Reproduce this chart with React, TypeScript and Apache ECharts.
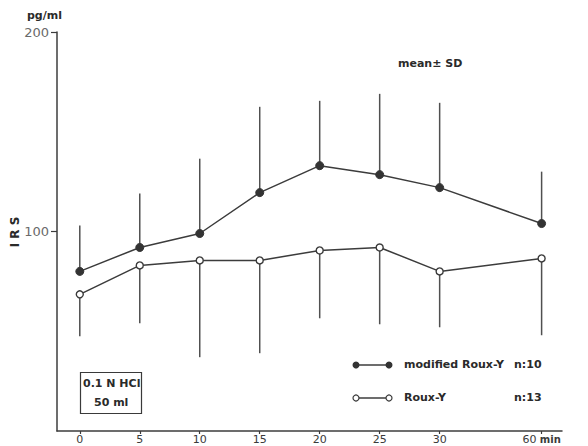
import React, { useEffect, useRef } from "react";
import * as echarts from "echarts";

// time points (min)
const times = [0, 5, 10, 15, 20, 25, 30, 60];
// modified Roux-Y (n:10) mean and SD (upper bar)
const modMean = [80, 92, 99, 119.5, 133, 128.5, 122, 104];
const modSD = [23, 27, 37.5, 43, 32.5, 40.5, 42.5, 26];
// Roux-Y (n:13) mean and SD (lower bar)
const rouxMean = [68.5, 83, 85.5, 85.5, 90.5, 92, 80, 86.5];
const rouxSD = [21, 29, 48.5, 46.5, 34, 38.5, 28, 38.5];
// axis ticks
const yTicks = [100, 200];
const xTickTimes = [0, 5, 10, 15, 20, 25, 30, 60];

// the time axis is compressed after 30 min (60 min is drawn at 38.5)
const pos = (t: number) => (t <= 30 ? t : 38.5);

const INK = "#3c3c3c";

export default function App() {
  const ref = useRef<HTMLDivElement>(null);
  useEffect(() => {
    if (!ref.current) return;
    const chart = echarts.init(ref.current, null, { renderer: "svg" });
    const modLine = times.map((t, i) => [pos(t), modMean[i]]);
    const rouxLine = times.map((t, i) => [pos(t), rouxMean[i]]);
    const modErr = times.map((t, i) => [pos(t), modMean[i], modMean[i] + modSD[i]]);
    const rouxErr = times.map((t, i) => [pos(t), rouxMean[i], rouxMean[i] - rouxSD[i]]);
    const labelOf: Record<string, string> = {};
    xTickTimes.forEach((t) => (labelOf[String(pos(t))] = t === 60 ? "{a|60} {b|min}" : String(t)));

    const errRender = (params: any, api: any) => {
      const p1 = api.coord([api.value(0), api.value(1)]);
      const p2 = api.coord([api.value(0), api.value(2)]);
      return {
        type: "line",
        shape: { x1: p1[0], y1: p1[1], x2: p2[0], y2: p2[1] },
        style: { stroke: "#505050", lineWidth: 1.5 },
      };
    };

    const smallBold = {
      fontFamily: "DejaVu Sans",
      fontWeight: "bold",
      fontSize: 11,
      fill: "#2a2a2a",
    };

    chart.setOption({
      animation: false,
      backgroundColor: "#ffffff",
      grid: {
        left: 57,
        top: 32,
        width: 505,
        height: 399,
        containLabel: false,
        outerBoundsMode: "none",
      },
      xAxis: {
        type: "value",
        min: -1.9,
        max: 40.2,
        axisLine: { show: true, onZero: false, lineStyle: { color: INK, width: 1.5 } },
        splitLine: { show: false },
        axisTick: {
          show: true,
          length: 3,
          customValues: xTickTimes.map(pos),
          lineStyle: { color: INK, width: 1.2 },
        },
        axisLabel: {
          customValues: xTickTimes.map(pos),
          formatter: (v: number) => labelOf[String(v)] ?? "",
          color: "#3a3a3a",
          fontFamily: "DejaVu Sans",
          fontSize: 11,
          lineHeight: 12,
          margin: 2,
          rich: {
            a: { fontFamily: "DejaVu Sans", fontSize: 11, lineHeight: 12, color: "#3a3a3a" },
            b: { fontFamily: "DejaVu Sans", fontSize: 10, lineHeight: 12, fontWeight: "bold", color: "#3a3a3a" },
          },
        },
      },
      yAxis: {
        type: "value",
        min: 0,
        max: 200,
        interval: 100,
        axisLine: { show: true, onZero: false, lineStyle: { color: INK, width: 1.5 } },
        splitLine: { show: false },
        axisTick: { show: true, length: 6, customValues: yTicks, lineStyle: { color: INK, width: 1.2 } },
        axisLabel: {
          customValues: yTicks,
          color: "#6a6a6a",
          fontFamily: "DejaVu Sans",
          fontSize: 13,
          margin: 8,
        },
      },
      series: [
        {
          type: "custom",
          renderItem: errRender,
          data: modErr,
          encode: { x: 0, y: [1, 2] },
          z: 1,
        },
        {
          type: "custom",
          renderItem: errRender,
          data: rouxErr,
          encode: { x: 0, y: [1, 2] },
          z: 1,
        },
        {
          type: "line",
          data: modLine,
          symbol: "circle",
          symbolSize: 8,
          lineStyle: { color: INK, width: 1.5 },
          itemStyle: { color: "#333333", borderColor: "#333333", borderWidth: 1 },
          z: 3,
        },
        {
          type: "line",
          data: rouxLine,
          symbol: "circle",
          symbolSize: 7,
          lineStyle: { color: INK, width: 1.5 },
          itemStyle: { color: "#ffffff", borderColor: "#3a3a3a", borderWidth: 1.4 },
          z: 3,
        },
      ],
      graphic: [
        { type: "text", left: 27, top: 10, style: { ...smallBold, text: "pg/ml" } },
        {
          type: "text",
          x: 15,
          y: 232,
          rotation: Math.PI / 2,
          style: { ...smallBold, fontSize: 12, text: "I R S", align: "center", verticalAlign: "middle" },
        },
        { type: "text", left: 398, top: 58, style: { ...smallBold, text: "mean± SD" } },
        // stimulus box
        {
          type: "rect",
          shape: { x: 80.5, y: 372.5, width: 61, height: 41 },
          style: { fill: "none", stroke: "#3a3a3a", lineWidth: 1.2 },
        },
        { type: "text", left: 83, top: 378, style: { ...smallBold, text: "0.1 N HCl" } },
        { type: "text", left: 94, top: 397, style: { ...smallBold, text: "50 ml" } },
        // legend row 1
        { type: "line", shape: { x1: 356, y1: 365, x2: 389, y2: 365 }, style: { stroke: INK, lineWidth: 1.5 } },
        { type: "circle", shape: { cx: 356, cy: 365, r: 3.5 }, style: { fill: "#333333" } },
        { type: "circle", shape: { cx: 389, cy: 365, r: 3.5 }, style: { fill: "#333333" } },
        { type: "text", left: 404, top: 359, style: { ...smallBold, text: "modified Roux-Y" } },
        { type: "text", left: 514, top: 359, style: { ...smallBold, text: "n:10" } },
        // legend row 2
        { type: "line", shape: { x1: 356, y1: 398, x2: 389, y2: 398 }, style: { stroke: INK, lineWidth: 1.3 } },
        { type: "circle", shape: { cx: 356, cy: 398, r: 3 }, style: { fill: "#ffffff", stroke: "#3a3a3a", lineWidth: 1.2 } },
        { type: "circle", shape: { cx: 389, cy: 398, r: 3 }, style: { fill: "#ffffff", stroke: "#3a3a3a", lineWidth: 1.2 } },
        { type: "text", left: 404, top: 392, style: { ...smallBold, text: "Roux-Y" } },
        { type: "text", left: 514, top: 392, style: { ...smallBold, text: "n:13" } },
      ],
    });
    return () => chart.dispose();
  }, []);
  return <div ref={ref} style={{ width: 588, height: 446, position: "absolute", left: 0, top: 0 }} />;
}
